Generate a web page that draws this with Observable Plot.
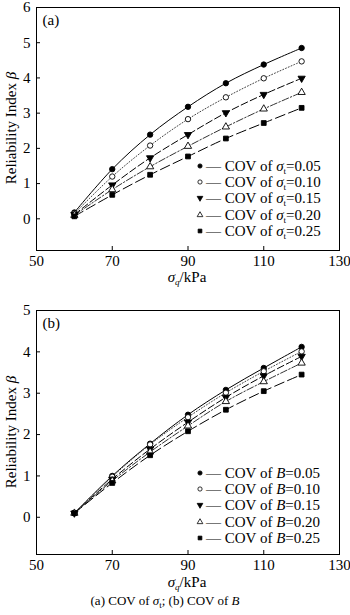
<!DOCTYPE html>
<html><head><meta charset="utf-8">
<script src="https://cdn.jsdelivr.net/npm/d3@7"></script>
<script src="https://cdn.jsdelivr.net/npm/@observablehq/plot@0.6"></script>
<style>
body{margin:0;background:#fff;font-family:"Liberation Serif","Times New Roman",serif;color:#000;}
#wrap{position:relative;width:350px;height:615px;overflow:hidden;}
#wrap svg{display:block;}
.lbl{position:absolute;font-size:15px;white-space:nowrap;line-height:1;}
.legend{position:absolute;font-size:15px;line-height:16.2px;white-space:nowrap;}
.legend .row{display:flex;align-items:center;height:16.2px;}
.legend svg{margin-right:2px;}
sub{font-size:9px;vertical-align:-3px;line-height:0;}
</style></head><body><div id="wrap"></div>
<script>
// x values (kPa)
const xValues = [60, 70, 80, 90, 100, 110, 120];
const covLabels = ["0.05", "0.10", "0.15", "0.20", "0.25"];
// panel (a): COV of sigma_t
const sigmaT005 = [0.18, 1.41, 2.39, 3.18, 3.85, 4.38, 4.85];
const sigmaT010 = [0.15, 1.20, 2.08, 2.83, 3.45, 3.99, 4.47];
const sigmaT015 = [0.12, 0.96, 1.73, 2.39, 3.01, 3.53, 3.99];
const sigmaT020 = [0.10, 0.83, 1.48, 2.06, 2.61, 3.12, 3.59];
const sigmaT025 = [0.07, 0.68, 1.25, 1.77, 2.28, 2.72, 3.15];
// panel (b): COV of B
const covB005 = [0.10, 1.00, 1.78, 2.48, 3.08, 3.61, 4.12];
const covB010 = [0.10, 0.98, 1.76, 2.42, 3.01, 3.53, 4.01];
const covB015 = [0.10, 0.92, 1.65, 2.30, 2.90, 3.42, 3.89];
const covB020 = [0.10, 0.88, 1.58, 2.21, 2.80, 3.28, 3.73];
const covB025 = [0.10, 0.83, 1.50, 2.08, 2.60, 3.05, 3.45];
const xTicks = [50, 70, 90, 110, 130];
const yTicksA = [0, 1, 2, 3, 4, 5, 6];
const yTicksB = [0, 1, 2, 3, 4, 5];

const triDown = {draw(ctx, size) {
  const s3 = Math.sqrt(3);
  const y = -Math.sqrt(size / (s3 * 3));
  ctx.moveTo(0, -y * 2); ctx.lineTo(-s3 * y, y); ctx.lineTo(s3 * y, y); ctx.closePath();
}};
const styles = [
  {symbol: "circle", fill: "black", dash: null, stroke: "#000"},
  {symbol: "circle", fill: "white", dash: "1,2", stroke: "#444"},
  {symbol: triDown, fill: "black", dash: "7,3", stroke: "#000"},
  {symbol: "triangle", fill: "white", dash: "7,2,1.5,2", stroke: "#333"},
  {symbol: "square", fill: "black", dash: "10,4", stroke: "#000"}
];

function panel(seriesList, yDomain, yTicks, tag, mTop, mBottom) {
  const marks = [];
  seriesList.forEach((vals, i) => {
    const rows = xValues.map((x, j) => ({x, y: vals[j]}));
    const st = styles[i];
    marks.push(Plot.line(rows, {x: "x", y: "y", curve: "catmull-rom", stroke: st.stroke, strokeWidth: 1, strokeDasharray: st.dash}));
  });
  seriesList.forEach((vals, i) => {
    const rows = xValues.map((x, j) => ({x, y: vals[j]}));
    const st = styles[i];
    marks.push(Plot.dot(rows, {x: "x", y: "y", symbol: st.symbol, r: 2.7, fill: st.fill, stroke: "black", strokeWidth: 0.9}));
  });
  return Plot.plot({
    width: 350, height: 300,
    marginLeft: 36, marginRight: 11, marginTop: mTop, marginBottom: mBottom,
    style: {fontFamily: "'Liberation Serif', serif", fontSize: "15px", background: "white", color: "black"},
    x: {domain: [50, 130]},
    y: {domain: yDomain},
    marks: [
      Plot.axisX({ticks: xTicks, tickSize: 0, tickPadding: 5, tickFormat: d => String(d), label: null}),
      Plot.axisY({ticks: yTicks, tickSize: 0, tickPadding: 6, tickFormat: d => String(d), label: null}),
      Plot.axisX({ticks: xTicks.slice(1, -1), tickSize: -4, text: null, label: null}),
      Plot.axisY({ticks: yTicks.slice(0, -1), tickSize: -4, text: null, label: null}),
      ...marks,
      Plot.frame({stroke: "black", strokeWidth: 1}),
      Plot.text([tag], {frameAnchor: "top-left", dx: 6, dy: 7, textAnchor: "start", lineAnchor: "top", fontSize: 15})
    ]
  });
}

const wrap = document.getElementById("wrap");
const pa = panel([sigmaT005, sigmaT010, sigmaT015, sigmaT020, sigmaT025], [-0.9, 6], yTicksA, "(a)", 7, 50);
const pb = panel([covB005, covB010, covB015, covB020, covB025], [-0.9, 5], yTicksB, "(b)", 10, 46);
wrap.appendChild(pa);
wrap.appendChild(pb);

function addDiv(html, css, cls = "lbl") {
  const d = document.createElement("div");
  d.className = cls; d.innerHTML = html; Object.assign(d.style, css); wrap.appendChild(d); return d;
}
const xLabel = "<i>σ</i><sub><i>q</i></sub>/kPa";
const yLabel = "Reliability Index <i>β</i>";
addDiv(xLabel, {left: "187px", top: "277px", transform: "translate(-50%,-50%)"});
addDiv(xLabel, {left: "187px", top: "582px", transform: "translate(-50%,-50%)"});
addDiv(yLabel, {left: "11px", top: "128px", transform: "translate(-50%,-50%) rotate(-90deg)"});
addDiv(yLabel, {left: "11px", top: "432px", transform: "translate(-50%,-50%) rotate(-90deg)"});
addDiv("(a) COV of <i>σ</i><sub>t</sub>; (b) COV of <i>B</i>", {left: "165px", top: "600px", transform: "translate(-50%,-50%)", fontSize: "13px"});

function legend(left, top, nameHtml) {
  const d = addDiv("", {left: left + "px", top: top + "px"}, "legend");
  covLabels.forEach((c, i) => {
    const st = styles[i];
    const row = document.createElement("div");
    row.className = "row";
    const sym = d3.symbol(typeof st.symbol === "string" ? {circle: d3.symbolCircle, triangle: d3.symbolTriangle, square: d3.symbolSquare}[st.symbol] : st.symbol, 14)();
    row.innerHTML = `<svg width="8" height="10" viewBox="-4 -5 8 10"><path d="${sym}" fill="${st.fill}" stroke="black" stroke-width="0.8"/></svg><span>— COV of ${nameHtml}=${c}</span>`;
    d.appendChild(row);
  });
}
legend(196, 158, "<i>σ</i><sub>t</sub>");
legend(196, 465, "<i>B</i>");
</script></body></html>
